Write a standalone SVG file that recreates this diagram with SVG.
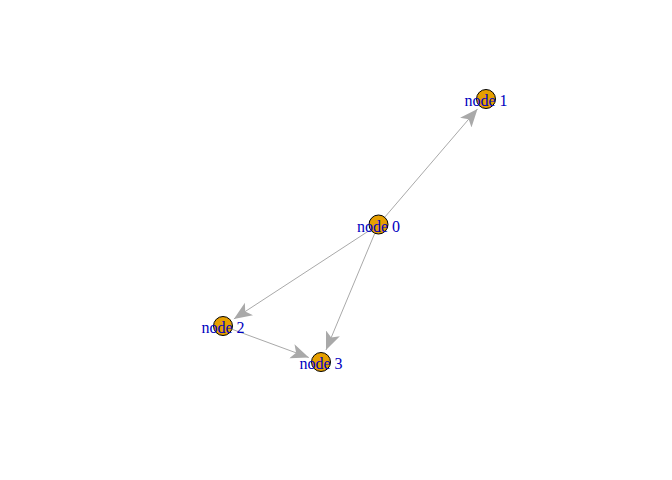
<svg xmlns="http://www.w3.org/2000/svg" width="672" height="480" viewBox="0 0 672 480">
<defs>
<marker id="arr" viewBox="0 0 18 16" markerWidth="18" markerHeight="16" refX="18" refY="8" orient="auto" markerUnits="userSpaceOnUse">
<path d="M0,0.5 L18,8 L0,15.5 L4.5,8 Z" fill="#A9A9A9"/>
</marker>
</defs>
<style>
.edge{stroke:#A9A9A9;stroke-width:1;fill:none;marker-end:url(#arr)}
.node circle{fill:#E69F00;stroke:#000;stroke-width:1}
.node text{font-family:"Liberation Serif","Times New Roman",serif;font-size:16px;fill:#0000C0;text-anchor:middle}
</style>
<rect width="672" height="480" fill="#fff"/>
<g id="edges">
<line class="edge" x1="385" y1="216.9" x2="477.5" y2="108.9"/>
<line class="edge" x1="370.1" y1="230" x2="233.9" y2="318.9"/>
<line class="edge" x1="374.6" y1="233.7" x2="326" y2="350"/>
<line class="edge" x1="232.4" y1="329.4" x2="308.8" y2="357.5"/>
</g>
<g id="node0" class="node"><circle cx="378.5" cy="224.5" r="9.5"/><text x="378.5" y="231.5">node 0</text></g>
<g id="node1" class="node"><circle cx="486" cy="99" r="9.5"/><text x="486" y="106">node 1</text></g>
<g id="node2" class="node"><circle cx="223" cy="326" r="9.5"/><text x="223" y="333">node 2</text></g>
<g id="node3" class="node"><circle cx="321" cy="362" r="9.5"/><text x="321" y="369">node 3</text></g>
</svg>
